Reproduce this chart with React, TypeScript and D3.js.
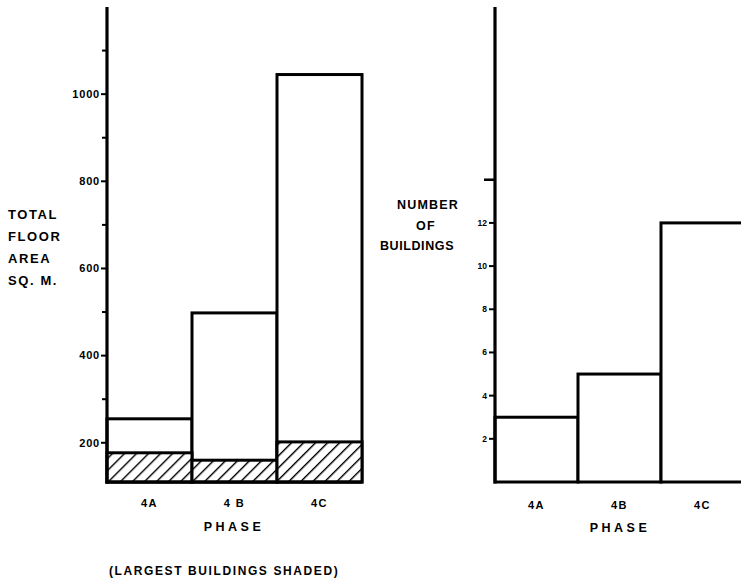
import React from "react";
import * as d3 from "d3";

const phases = ["4A", "4B", "4C"];
const phaseLabels = ["4A", "4 B", "4C"];
const totalArea = [255, 498, 1045];
const largestArea = [177, 160, 202];
const areaTicks = [200, 400, 600, 800, 1000];
const areaMinorTicks = [300, 500, 700, 900, 1100];
const buildings = [3, 5, 12];
const buildingTicks = [2, 4, 6, 8, 10, 12];
const buildingMinorTicks = [14];

const W = 741;
const H = 581;
const FONT = "'Liberation Sans', Arial, sans-serif";

export default function App() {
  const yL = d3.scaleLinear().domain([110, 1200]).range([482, 7]);
  const xL = d3.scaleBand().domain(phases).range([107, 362]).paddingInner(0);
  const yR = d3.scaleLinear().domain([0, 22]).range([482, 7]);
  const xR = d3.scaleBand().domain(phases).range([495, 744]).paddingInner(0);
  const base = 482;

  return (
    <svg width={W} height={H} style={{ position: "absolute", left: 0, top: 0, background: "#fff" }}>
      <defs>
        <pattern id="hatch" patternUnits="userSpaceOnUse" width={8.5} height={8.5} patternTransform="rotate(45)">
          <rect width={8.5} height={8.5} fill="#fff" />
          <line x1={0} y1={0} x2={0} y2={8.5} stroke="#000" strokeWidth={2.8} />
        </pattern>
      </defs>
      <rect width={W} height={H} fill="#fff" />

      {/* LEFT CHART */}
      <g fontFamily={FONT} fontWeight="bold" fill="#000">
        {phases.map((p, i) => (
          <rect
            key={p}
            x={xL(p)!}
            y={yL(totalArea[i])}
            width={xL.bandwidth()}
            height={base - yL(totalArea[i])}
            fill="#fff"
            stroke="#000"
            strokeWidth={3}
          />
        ))}
        {phases.map((p, i) => (
          <rect
            key={"h" + p}
            x={xL(p)!}
            y={yL(largestArea[i])}
            width={xL.bandwidth()}
            height={base - yL(largestArea[i])}
            fill="url(#hatch)"
            stroke="#000"
            strokeWidth={3}
          />
        ))}
        <line x1={107} y1={yL(1200)} x2={107} y2={base + 1.5} stroke="#000" strokeWidth={3.2} />
        <line x1={105.5} y1={base} x2={362} y2={base} stroke="#000" strokeWidth={3} />
        {areaTicks.map((t) => (
          <g key={t}>
            <line x1={101} x2={107} y1={yL(t)} y2={yL(t)} stroke="#000" strokeWidth={2} />
            <text x={100} y={yL(t)} dy="0.35em" textAnchor="end" fontSize={11} letterSpacing={0.8}>
              {t}
            </text>
          </g>
        ))}
        {areaMinorTicks.map((t) => (
          <line key={t} x1={102} x2={107} y1={yL(t)} y2={yL(t)} stroke="#000" strokeWidth={2} />
        ))}
        {phases.map((p, i) => (
          <text
            key={"l" + p}
            x={xL(p)! + xL.bandwidth() / 2}
            y={507}
            textAnchor="middle"
            fontSize={11}
            letterSpacing={1.5}
          >
            {phaseLabels[i]}
          </text>
        ))}
        <text x={234} y={531} textAnchor="middle" fontSize={12.5} letterSpacing={3.5}>
          PHASE
        </text>
        {["TOTAL", "FLOOR", "AREA", "SQ. M."].map((s, i) => (
          <text key={s} x={8} y={[219, 241, 263, 285][i]} fontSize={13} letterSpacing={1.6}>
            {s}
          </text>
        ))}
        <text x={109} y={575} fontSize={12} letterSpacing={1.6}>
          (LARGEST  BUILDINGS  SHADED)
        </text>
      </g>

      {/* RIGHT CHART */}
      <g fontFamily={FONT} fontWeight="bold" fill="#000">
        {phases.map((p, i) => (
          <rect
            key={p}
            x={xR(p)!}
            y={yR(buildings[i])}
            width={xR.bandwidth()}
            height={base - yR(buildings[i])}
            fill="#fff"
            stroke="#000"
            strokeWidth={3}
          />
        ))}
        <line x1={495} y1={yR(22)} x2={495} y2={base + 1.5} stroke="#000" strokeWidth={3.2} />
        {buildingTicks.map((t) => (
          <g key={t}>
            <line x1={489} x2={495} y1={yR(t)} y2={yR(t)} stroke="#000" strokeWidth={2} />
            <text x={487} y={yR(t)} dy="0.35em" textAnchor="end" fontSize={8.5}>
              {t}
            </text>
          </g>
        ))}
        {buildingMinorTicks.map((t) => (
          <line key={t} x1={484} x2={495} y1={yR(t)} y2={yR(t)} stroke="#000" strokeWidth={2.5} />
        ))}
        {phases.map((p, i) => (
          <text
            key={"l" + p}
            x={xR(p)! + xR.bandwidth() / 2}
            y={509}
            textAnchor="middle"
            fontSize={11}
            letterSpacing={1.5}
          >
            {phaseLabels[i].replace(" ", "")}
          </text>
        ))}
        <text x={620} y={532} textAnchor="middle" fontSize={12.5} letterSpacing={3.5}>
          PHASE
        </text>
        <text x={428} y={209} textAnchor="middle" fontSize={12.5} letterSpacing={1.2}>
          NUMBER
        </text>
        <text x={426} y={230} textAnchor="middle" fontSize={12.5} letterSpacing={1.2}>
          OF
        </text>
        <text x={417} y={250} textAnchor="middle" fontSize={12.5} letterSpacing={0.6}>
          BUILDINGS
        </text>
      </g>
    </svg>
  );
}
